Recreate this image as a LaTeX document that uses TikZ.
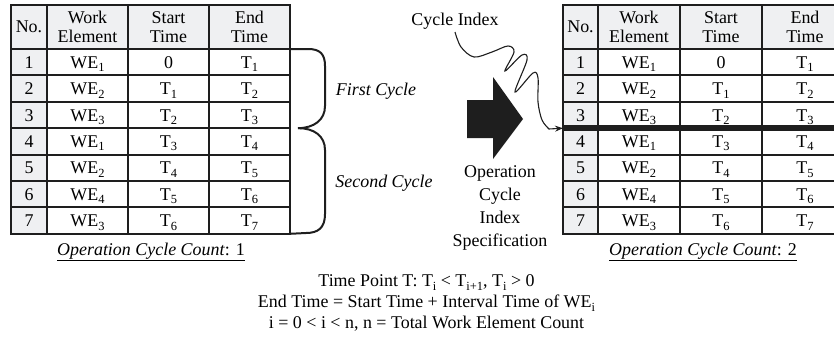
\documentclass[tikz,border=0pt]{standalone}
\usepackage{fontspec}
\setmainfont{Liberation Serif}
\usetikzlibrary{arrows.meta,calc}
\definecolor{cellgray}{RGB}{239,240,242}
\definecolor{ink}{RGB}{30,30,30}
% lowered subscript in the text font
\newcommand\lowsub[1]{\raisebox{-3.5bp}{\fontsize{12.5}{12.5}\selectfont #1}}
\tikzset{
  basecell/.style={draw=ink, line width=2bp, anchor=north west, inner sep=0pt, outer sep=0pt,
    font=\fontsize{18}{19.5}\selectfont},
  rowcell/.style={basecell, fill=white, minimum height=26.4bp, text height=12bp, text depth=0bp},
  numcell/.style={rowcell, fill=cellgray},
  headcell/.style={basecell, fill=cellgray, minimum height=44bp, align=center},
  lbl/.style={font=\fontsize{18}{22}\selectfont, inner sep=1bp},
  brace/.style={draw=ink, line width=2bp},
  wiggle/.style={draw=ink, line width=1.1bp, -{Stealth[length=8bp,width=6bp]}},
}
% #1 name prefix, #2 left x, #3--#6 column widths
\newcommand\worktable[6]{%
  \begin{scope}[shift={(#2,5)}]
    \node[headcell, minimum width=#3bp] (#1-h0) at (0,0) {No.};
    \node[headcell, minimum width=#4bp] (#1-h1) at (#3,0) {Work\\Element};
    \node[headcell, minimum width=#5bp] (#1-h2) at ({#3+#4},0) {Start\\Time};
    \node[headcell, minimum width=#6bp] (#1-h3) at ({#3+#4+#5},0) {End\\Time};
    \foreach \w/\s/\e [count=\r] in {1/0/1, 2/T\lowsub{1}/2, 3/T\lowsub{2}/3,
        1/T\lowsub{3}/4, 2/T\lowsub{4}/5, 4/T\lowsub{5}/6, 3/T\lowsub{6}/7}{
      \node[numcell, minimum width=#3bp] (#1-\r-0) at (0,{44+26.4*(\r-1)}) {\r};
      \node[rowcell, minimum width=#4bp] (#1-\r-1) at (#3,{44+26.4*(\r-1)}) {WE\lowsub{\w}};
      \node[rowcell, minimum width=#5bp] (#1-\r-2) at ({#3+#4},{44+26.4*(\r-1)}) {\s};
      \node[rowcell, minimum width=#6bp] (#1-\r-3) at ({#3+#4+#5},{44+26.4*(\r-1)}) {T\lowsub{\e}};
    }
  \end{scope}%
}
\begin{document}
\begin{tikzpicture}[x=1bp, y=-1bp]
  \clip (0,0) rectangle (834,344);

  % tables before and after the cycle index is applied
  \worktable{L}{11}{36}{81}{81}{81}
  \worktable{R}{563}{35}{82}{82}{86}

  % cycle boundary inserted in the second table
  \coordinate (barin) at (R-3-0.south west);
  \draw[draw=ink, line width=6.5bp] (barin) -- ($(R-3-3.south east)+(10,0)$);

  % braces grouping the rows into cycles
  \coordinate (cusp) at ($(L-3-3.south east)+(8,0)$);
  \draw[brace] (L-1-3.north east) -- (308,49) .. controls (320,49) and (325,54) .. (325,66)
    -- (325,106) .. controls (325,120) and (314,128) .. (cusp);
  \draw[brace] (cusp) .. controls (314,128) and (325,136) .. (325,150)
    -- (325,214) .. controls (325,228) and (318,233) .. (306,233) -- (L-7-3.south east);
  \node[lbl, font=\fontsize{18}{22}\selectfont\itshape] (first) at (376,91) {First Cycle};
  \node[lbl, font=\fontsize{18}{22}\selectfont\itshape] (second) at (384,183) {Second Cycle};

  % block arrow
  \fill[ink] (467,100) -- (493,100) -- (493,77) -- (523,119) -- (493,159) -- (493,138) -- (467,138) -- cycle;
  \node[lbl, align=center, font=\fontsize{18}{23}\selectfont] (spec) at (500,208)
    {Operation\\Cycle\\Index\\Specification};

  % cycle index pointer
  \node[lbl] (cidx) at (455,21) {Cycle Index};
  \draw[wiggle] plot[smooth, tension=0.55] coordinates {(455,32) (461,47) (474,57) (492,52)
    (508,46) (514,52) (505,71) (522,55) (527,60) (515,92) (533,73) (538,78) (538,102)
    (542,120) (549,129)} -- (barin);

  % counts under the tables
  \node[lbl] (cnt1) at (151,252) {\underline{\textit{Operation Cycle Count}: 1}};
  \node[lbl] (cnt2) at (703,252) {\underline{\textit{Operation Cycle Count}: 2}};

  % notes
  \node[lbl, align=center, font=\fontsize{18}{21}\selectfont] (notes) at (426.5,303)
    {Time Point T: T\lowsub{i} < T\lowsub{i+1}, T\lowsub{i} > 0\\
     End Time = Start Time + Interval Time of WE\lowsub{i}\\
     i = 0 < i < n, n = Total Work Element Count};
\end{tikzpicture}
\end{document}
